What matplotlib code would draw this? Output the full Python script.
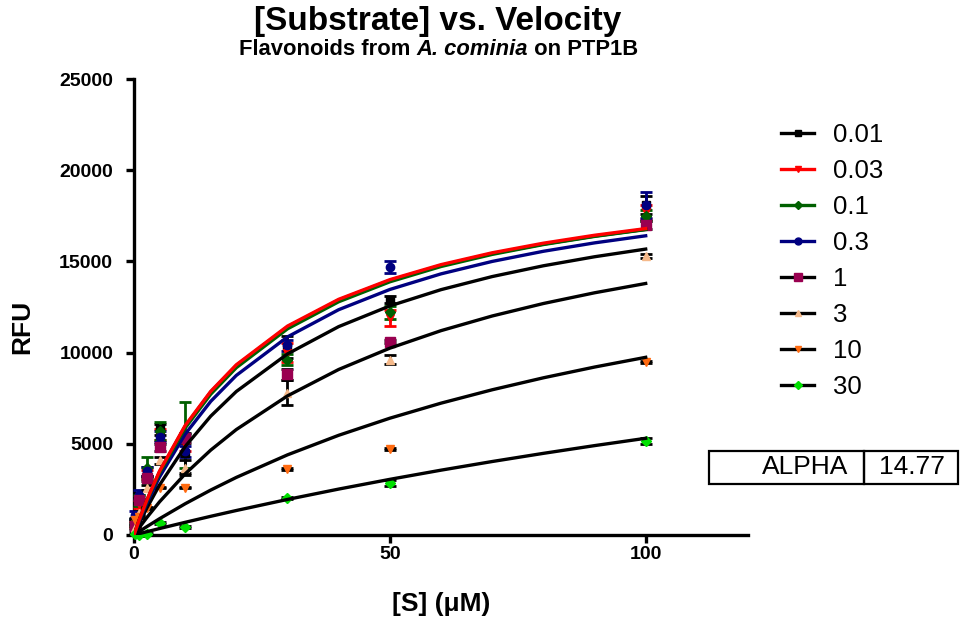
import numpy as np
import matplotlib.pyplot as plt
from matplotlib.lines import Line2D
from matplotlib.patches import Rectangle

plt.rcParams['font.family'] = ['Liberation Sans', 'DejaVu Sans']

# substrate concentrations (uM)
S = [0.25, 1, 2.5, 5, 10, 30, 50, 100]

# measured RFU (mean, error) per inhibitor concentration
v001 = [800, 2000, 3500, 5800, 4500, 10300, 12900, 18100]
e001 = [150, 200, 250, 300, 1100, 600, 200, 500]
v003 = [600, 1700, 3300, 5500, 5000, 10000, 11900, 17700]
e003 = [150, 200, 250, 300, 400, 500, 450, 400]
v01 = [700, 1900, 3700, 5700, 5500, 9600, 12200, 17500]
e01 = [150, 300, 600, 500, 1800, 300, 350, 300]
v03 = [1100, 2200, 3500, 5400, 4600, 10400, 14700, 18100]
e03 = [200, 250, 250, 300, 300, 300, 350, 700]
v1 = [500, 1900, 3100, 4800, 5300, 8800, 10600, 17000]
e1 = [100, 150, 150, 200, 250, 300, 100, 200]
v3 = [400, 1200, 2600, 4100, 3700, 7800, 9600, 15300]
e3 = [100, 100, 150, 200, 400, 700, 250, 100]
v10 = [800, 1000, 1500, 2600, 2600, 3600, 4700, 9500]
e10 = [50, 50, 50, 50, 50, 50, 50, 50]
v30 = [50, 0, 50, 650, 450, 2050, 2850, 5150]
e30 = [50, 50, 50, 50, 50, 50, 150, 150]

# fitted curves
xfit = [0, 1, 2.5, 5, 10, 15, 20, 30, 40, 50, 60, 70, 80, 90, 100]
f001 = [0, 800, 1890, 3470, 5960, 7840, 9290, 11410, 12880, 13960, 14780, 15430, 15950, 16390, 16760]
f003 = [0, 808, 1909, 3500, 6000, 7875, 9333, 11455, 12923, 14000, 14824, 15474, 16000, 16435, 16800]
f01 = [0, 781, 1851, 3403, 5861, 7720, 9174, 11304, 12788, 13882, 14721, 15385, 15925, 16371, 16746]
f03 = [0, 724, 1721, 3182, 5526, 7326, 8750, 10862, 12353, 13462, 14318, 15000, 15556, 16017, 16406]
f1 = [0, 613, 1468, 2743, 4849, 6516, 7868, 9929, 11425, 12560, 13452, 14170, 14761, 15256, 15677]
f3 = [0, 391, 950, 1819, 3349, 4654, 5781, 7627, 9075, 10243, 11204, 12008, 12692, 13280, 13791]
f10 = [0, 185, 456, 893, 1711, 2463, 3157, 4394, 5466, 6403, 7228, 7962, 8618, 9208, 9742]
f30 = [0, 72, 178, 353, 694, 1024, 1342, 1949, 2517, 3051, 3554, 4028, 4476, 4900, 5302]

labels = ['0.01', '0.03', '0.1', '0.3', '1', '3', '10', '30']
means = [v001, v003, v01, v03, v1, v3, v10, v30]
errs = [e001, e003, e01, e03, e1, e3, e10, e30]
fits = [f001, f003, f01, f03, f1, f3, f10, f30]
line_cols = ['black', '#ff0000', '#006000', '#000080', 'black', 'black', 'black', 'black']
mark_cols = ['black', '#ff0000', '#006000', '#000080', '#990050', '#f5b98a', '#ff6a10', '#00e000']
markers = ['s', 'v', 'D', 'o', 's', '^', 'v', 'D']
msizes = [6, 6, 5, 6, 7, 6, 6, 5]

fig = plt.figure(figsize=(9.61, 6.22), dpi=100)
ax = fig.add_axes([0.1394, 0.1399, 0.639, 0.733])

for i in range(8):
    ax.errorbar(S, means[i], yerr=errs[i], fmt=markers[i], color=mark_cols[i],
                ecolor=line_cols[i] if i < 4 else 'black', elinewidth=2, capsize=4,
                capthick=2, markersize=msizes[i], clip_on=False, zorder=3)
# curve order: black 0.01 first so the red one sits on top
for i in [0, 4, 5, 6, 7, 3, 2, 1]:
    ax.plot(xfit, fits[i], '-', color=line_cols[i], lw=2.4, zorder=4)

ax.set_xlim(0, 120)
ax.set_ylim(0, 25000)
ax.set_xticks([0, 50, 100])
ax.set_yticks([0, 5000, 10000, 15000, 20000, 25000])
for s in ['top', 'right']:
    ax.spines[s].set_visible(False)
for s in ['left', 'bottom']:
    ax.spines[s].set_linewidth(2.4)
ax.tick_params(width=2.4, length=6, labelsize=14)
ax.tick_params(axis='y', pad=9)
ax.tick_params(axis='x', pad=2)
for t in ax.get_xticklabels() + ax.get_yticklabels():
    t.set_fontweight('bold')

ax.set_ylabel('RFU', fontsize=19, fontweight='bold')
ax.yaxis.set_label_coords(-0.182, 0.456)
ax.set_xlabel('[S] (\u03bcM)', fontsize=19, fontweight='bold')
ax.xaxis.set_label_coords(0.5, -0.151)
ax.xaxis.label.set_va('center')
ax.yaxis.label.set_va('center')

fig.text(0.455, 0.966, '[Substrate] vs. Velocity', ha='center', va='center',
         fontsize=24, fontweight='bold')
t1 = fig.text(0.2487, 0.921, 'Flavonoids from ', ha='left', va='center',
              fontsize=15.8, fontweight='bold')
a2 = ax.annotate('A. cominia', xy=(1, 0), xycoords=t1, va='bottom', ha='left',
                 fontsize=15.8, fontweight='bold', style='italic', annotation_clip=False)
ax.annotate(' on PTP1B', xy=(1, 0), xycoords=a2, va='bottom', ha='left',
            fontsize=15.8, fontweight='bold', annotation_clip=False)

handles = [Line2D([0], [0], color=line_cols[i], lw=2.4, marker=markers[i],
                  markerfacecolor=mark_cols[i], markeredgecolor=mark_cols[i],
                  markersize=msizes[i] - 1) for i in range(8)]
fig.legend(handles, labels, loc='upper left', bbox_to_anchor=(0.813, 0.803),
           frameon=False, fontsize=18.5, handlelength=1.28, labelspacing=0.47,
           handletextpad=0.72, borderaxespad=0, borderpad=0)

# ALPHA table
box_y, box_h = 1 - 484 / 622, 33 / 622
fig.patches.append(Rectangle((709 / 961, box_y), 155 / 961, box_h, fill=False,
                             lw=1.6, ec='black', transform=fig.transFigure))
fig.patches.append(Rectangle((864 / 961, box_y), 94 / 961, box_h, fill=False,
                             lw=1.6, ec='black', transform=fig.transFigure))
fig.text(848 / 961, box_y + box_h / 2, 'ALPHA', ha='right', va='center', fontsize=19)
fig.text(945 / 961, box_y + box_h / 2, '14.77', ha='right', va='center', fontsize=19)

fig.savefig('out.png', dpi=100)
